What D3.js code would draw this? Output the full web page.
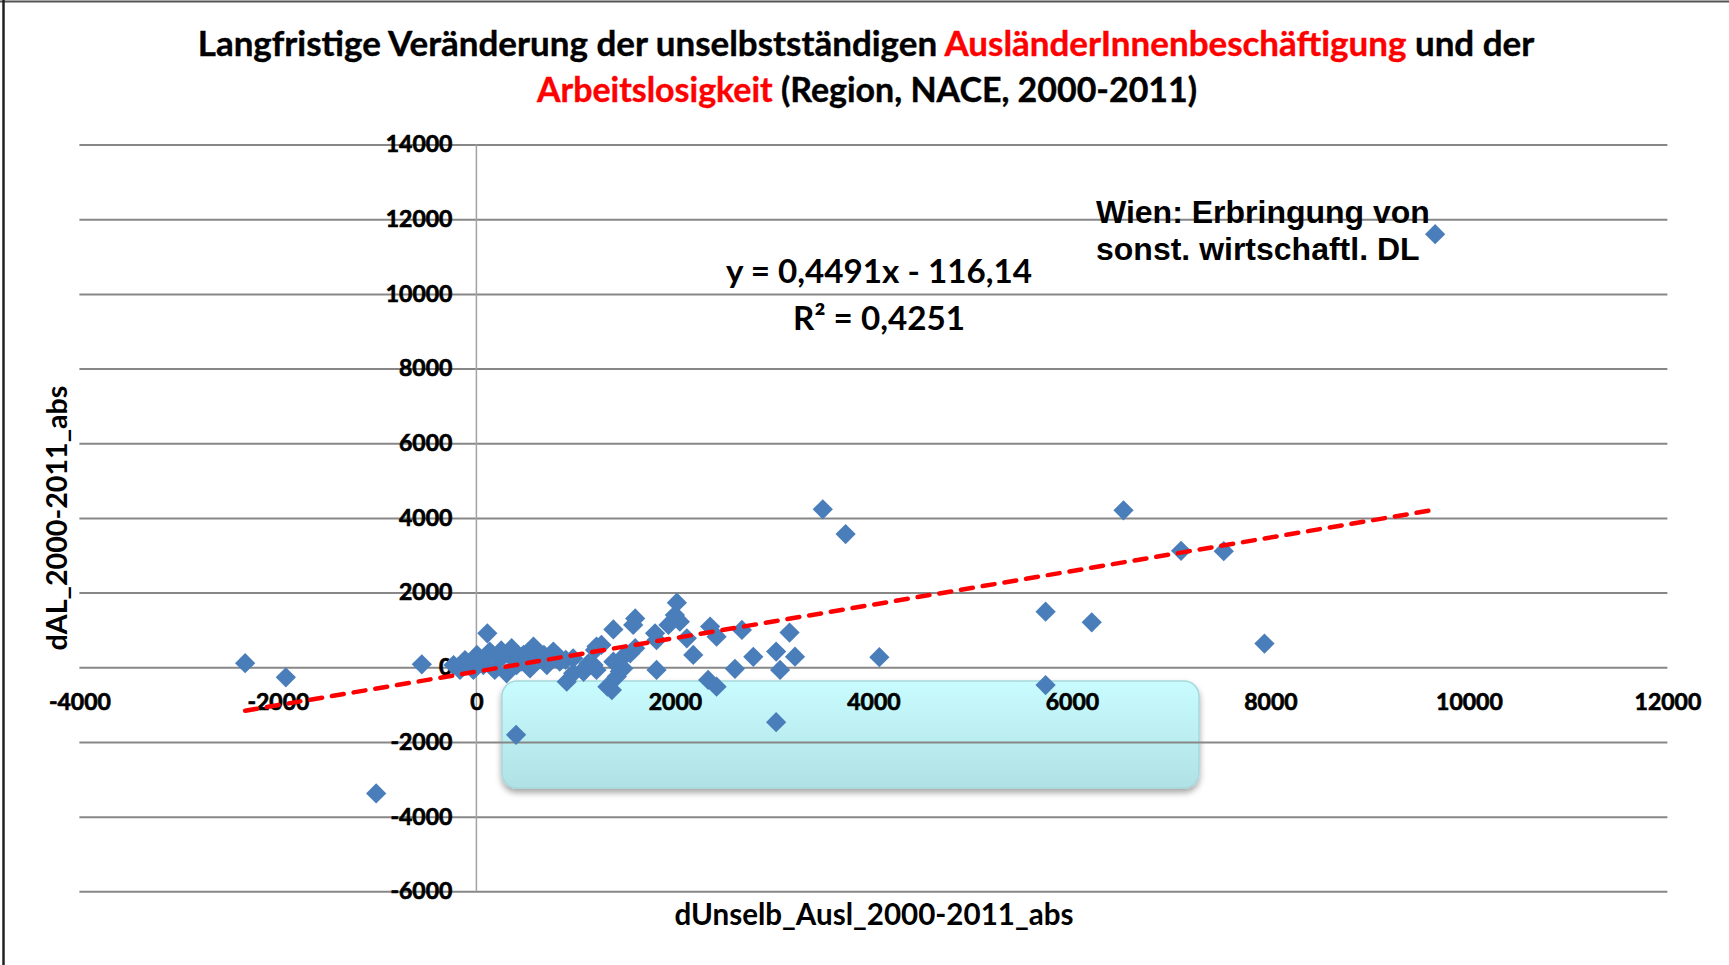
<!DOCTYPE html>
<html>
<head>
<meta charset="utf-8">
<script src="https://cdn.jsdelivr.net/npm/d3@7"></script>
<style>
	body { margin: 0; background: #fff; }
	svg { display: block; }
</style>
</head>
<body>
<svg class="scatter-chart"></svg>
<script>
// values
var xVals = [-2330, -1920, -1010, -550, 110, 400, 3490, 3720, 4060, 3020, 5735, 5735, 6200, 6520, 7100, 7530, 7940, 9660,
	-230, -165, -115, -30, 5, 70, 135, 185, 270, 305, 355, 405, 475, 540, 575, 640, 710, 775, 840, 910, 975, 975, 1075, 1180, 1210,
	-80, 30, 100, 230, 360, 450, 600, 680, 820, 900, 250, 520,
	2020, 2000, 2050, 1935, 1600, 1580, 1380, 1800, 1815, 2355, 2420, 2675, 2120, 2185, 1815, 2335, 2420, 2605, 2790,
	1365, 1320, 1445, 1195, 1260, 1550, 1600, 1480, 1380, 1130, 1080, 1210, 1415, 1480,
	3155, 3020, 3210, 3060];
var yVals = [110, -270, -3380, 80, 910, -1810, 4230, 3570, 270, -1470, -475, 1490, 1205, 4205, 3120, 3110, 635, 11600,
	60, -70, 195, -70, 330, 60, 420, -70, 330, -160, 510, 60, 330, -30, 555, 240, 60, 420, 150, -385, -160, 240, -70, 60, 555,
	100, 160, 250, 200, 250, 150, 400, 330, 300, 200, 450, 180,
	1730, 1400, 1220, 1135, 1310, 1135, 1015, 910, 730, 1090, 820, 1000, 775, 330, -70, -340, -520, -40, 280,
	-610, -520, -115, 465, 600, 375, 510, 285, 150, 105, -120, -70, -250, -30,
	930, 420, 285, -70];

var xTicks = [-4000, -2000, 0, 2000, 4000, 6000, 8000, 10000, 12000];
var yTicks = [-6000, -4000, -2000, 0, 2000, 4000, 6000, 8000, 10000, 12000, 14000];

var trendSlope = 0.4491, trendIntercept = -116.14;
var trendLabel = ["y = 0,4491x - 116,14", "R² = 0,4251"];
var noteLabel = ["Wien: Erbringung von", "sonst. wirtschaftl. DL"];
var xTitle = "dUnselb_Ausl_2000-2011_abs";
var yTitle = "dAL_2000-2011_abs";
var titleLine1 = [["Langfristige Veränderung der unselbstständigen ", "#000"], ["AusländerInnenbeschäftigung", "#ff0000"], [" und der", "#000"]];
var titleLine2 = [["Arbeitslosigkeit", "#ff0000"], [" (Region, NACE, 2000-2011)", "#000"]];

var points = xVals.map(function(d, i) { return { x: d, y: yVals[i] }; });

function fitWidth(text, w) {
	var cur = text.node().getComputedTextLength();
	var fs = parseFloat(text.attr("font-size"));
	text.attr("font-size", fs * w / cur);
}

function drawChart(data) {
	var svgWidth = 1729, svgHeight = 965;
	var calibri = "Lato, 'Open Sans', sans-serif";

	var svg = d3.select(".scatter-chart")
	.attr("width", svgWidth)
	.attr("height", svgHeight);

	var defs = svg.append("defs");
	var grad = defs.append("linearGradient")
	.attr("id", "boxGrad")
	.attr("x1", 0).attr("y1", 0).attr("x2", 0).attr("y2", 1);
	grad.append("stop").attr("offset", "0%").attr("stop-color", "#c9fcfe");
	grad.append("stop").attr("offset", "100%").attr("stop-color", "#b0e2e5");
	var shadow = defs.append("filter")
	.attr("id", "boxShadow")
	.attr("x", "-10%").attr("y", "-20%").attr("width", "120%").attr("height", "150%");
	shadow.append("feDropShadow")
	.attr("dx", 0).attr("dy", 4)
	.attr("stdDeviation", 3)
	.attr("flood-color", "#000")
	.attr("flood-opacity", 0.35);

	// frame
	svg.append("line")
	.attr("x1", 0).attr("x2", svgWidth).attr("y1", 1.5).attr("y2", 1.5)
	.attr("stroke", "#555").attr("stroke-width", 2);
	svg.append("line")
	.attr("x1", 3.5).attr("x2", 3.5).attr("y1", 0).attr("y2", svgHeight)
	.attr("stroke", "#222").attr("stroke-width", 2.5);

	var x = d3.scaleLinear()
	.domain([-4000, 12000])
	.range([79.4, 1667.4]);

	var y = d3.scaleLinear()
	.domain([-6000, 14000])
	.range([891.3, 144.6]);

	// the cyan callout box
	svg.append("rect")
	.attr("x", 502).attr("y", 681)
	.attr("width", 697).attr("height", 107)
	.attr("rx", 15).attr("ry", 15)
	.attr("fill", "url(#boxGrad)")
	.attr("stroke", "#a7d8dc")
	.attr("stroke-width", 1.5)
	.attr("filter", "url(#boxShadow)");

	// gridlines
	svg.append("g")
	.attr("transform", "translate(" + x(-4000) + ",0)")
	.call(d3.axisLeft(y).tickValues(yTicks).tickSize(-(x(12000) - x(-4000))).tickFormat(""))
	.call(function(g) { g.select(".domain").remove(); })
	.selectAll("line")
	.attr("stroke", "#878787")
	.attr("stroke-width", 2);

	// vertical axis line at x = 0
	svg.append("line")
	.attr("x1", x(0)).attr("x2", x(0))
	.attr("y1", y(14000)).attr("y2", y(-6000))
	.attr("stroke", "#a3a3a3")
	.attr("stroke-width", 1.5);

	svg.append("g")
	.attr("transform", "translate(" + x(0) + ",0)")
	.call(d3.axisLeft(y).tickValues(yTicks).tickSize(0).tickPadding(24).tickFormat(function(d) { return String(d); }))
	.call(function(g) { g.select(".domain").remove(); })
	.selectAll("text")
	.attr("font-family", calibri)
	.attr("font-weight", "bold")
	.attr("font-size", 23)
	.attr("fill", "#000")
	.attr("stroke", "#000")
	.attr("stroke-width", 0.7);

	svg.append("g")
	.attr("transform", "translate(0," + y(0) + ")")
	.call(d3.axisBottom(x).tickValues(xTicks).tickSize(0).tickPadding(26).tickFormat(function(d) { return String(d); }))
	.call(function(g) { g.select(".domain").remove(); })
	.selectAll("text")
	.attr("font-family", calibri)
	.attr("font-weight", "bold")
	.attr("font-size", 23)
	.attr("fill", "#000")
	.attr("stroke", "#000")
	.attr("stroke-width", 0.7);

	// points
	var diamond = d3.symbol().type(d3.symbolSquare).size(205);
	svg.append("g")
	.selectAll("path")
	.data(data)
	.enter().append("path")
	.attr("d", diamond)
	.attr("transform", function(d) { return "translate(" + x(d.x) + "," + y(d.y) + ") rotate(45)"; })
	.attr("fill", "#4a7ebb");

	// linear trendline over the range of the data
	var ext = d3.extent(data, function(d) { return d.x; });
	var line = d3.line()
	.x(function(d) { return x(d); })
	.y(function(d) { return y(trendSlope * d + trendIntercept); });
	svg.append("path")
	.datum(ext)
	.attr("fill", "none")
	.attr("stroke", "#ff0000")
	.attr("stroke-width", 4.5)
	.attr("stroke-dasharray", "12,10")
	.attr("stroke-linecap", "round")
	.attr("d", line);

	// title
	var t1 = svg.append("text")
	.attr("x", 866).attr("y", 44).attr("dy", "0.35em")
	.attr("text-anchor", "middle")
	.attr("font-family", calibri).attr("font-weight", "bold").attr("font-size", 30)
	.attr("stroke-width", 0.4);
	titleLine1.forEach(function(p) { t1.append("tspan").attr("fill", p[1]).attr("stroke", p[1]).text(p[0]); });
	fitWidth(t1, 1337);
	var t2 = svg.append("text")
	.attr("x", 867).attr("y", 90).attr("dy", "0.35em")
	.attr("text-anchor", "middle")
	.attr("font-family", calibri).attr("font-weight", "bold").attr("font-size", t1.attr("font-size"))
	.attr("stroke-width", 0.4);
	titleLine2.forEach(function(p) { t2.append("tspan").attr("fill", p[1]).attr("stroke", p[1]).text(p[0]); });
	fitWidth(t2, 660);

	// trend equation
	var eq = svg.append("text")
	.attr("x", 879).attr("y", 271).attr("dy", "0.35em")
	.attr("text-anchor", "middle")
	.attr("font-family", calibri).attr("font-weight", "bold").attr("font-size", 28)
	.text(trendLabel[0]);
	fitWidth(eq, 306);
	svg.append("text")
	.attr("x", 879).attr("y", 318).attr("dy", "0.35em")
	.attr("text-anchor", "middle")
	.attr("font-family", calibri).attr("font-weight", "bold").attr("font-size", eq.attr("font-size"))
	.text(trendLabel[1]);

	// note for the Wien point
	var n1 = svg.append("text")
	.attr("x", 1096).attr("y", 212).attr("dy", "0.35em")
	.attr("font-family", "'Liberation Sans', Arial, sans-serif").attr("font-weight", "bold").attr("font-size", 30)
	.text(noteLabel[0]);
	fitWidth(n1, 334);
	svg.append("text")
	.attr("x", 1096).attr("y", 249).attr("dy", "0.35em")
	.attr("font-family", "'Liberation Sans', Arial, sans-serif").attr("font-weight", "bold").attr("font-size", n1.attr("font-size"))
	.text(noteLabel[1]);

	// axis titles
	var xt = svg.append("text")
	.attr("x", 874).attr("y", 915).attr("dy", "0.35em")
	.attr("text-anchor", "middle")
	.attr("font-family", calibri).attr("font-weight", "bold").attr("font-size", 26)
	.text(xTitle);
	fitWidth(xt, 399);

	var yt = svg.append("text")
	.attr("transform", "translate(57,518) rotate(-90)")
	.attr("dy", "0.35em")
	.attr("text-anchor", "middle")
	.attr("font-family", calibri).attr("font-weight", "bold").attr("font-size", 26)
	.text(yTitle);
	fitWidth(yt, 265);
}

drawChart(points);
</script>
</body>
</html>
